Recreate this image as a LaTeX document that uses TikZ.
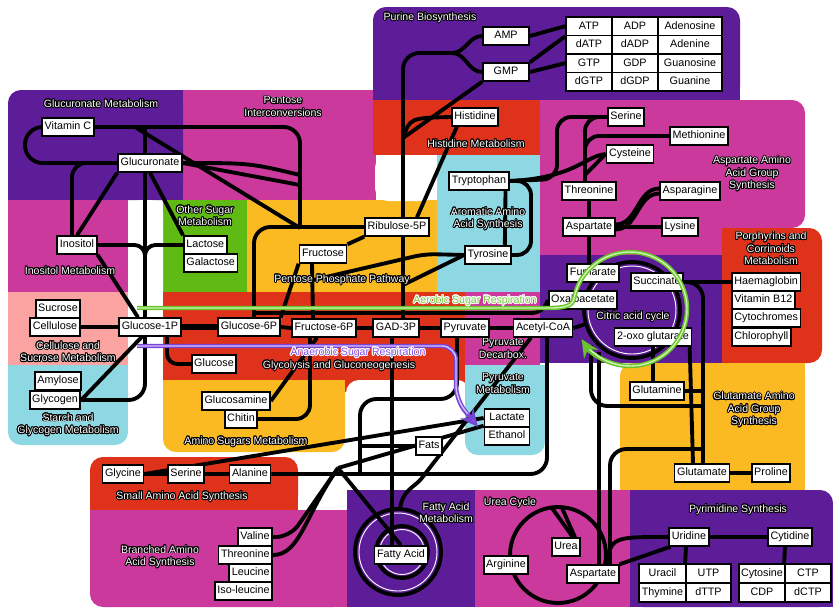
\documentclass[tikz,border=0pt]{standalone}
\usepackage{fontspec}
\setmainfont{Liberation Sans}
\usepackage[copies]{contour}
\contourlength{0.75pt}
\usetikzlibrary{calc,arrows.meta}
\definecolor{cPur}{RGB}{93,29,153}
\definecolor{cMag}{RGB}{204,57,156}
\definecolor{cRed}{RGB}{223,50,27}
\definecolor{cOra}{RGB}{251,186,33}
\definecolor{cCya}{RGB}{141,216,226}
\definecolor{cGre}{RGB}{95,187,20}
\definecolor{cPin}{RGB}{250,163,160}
\definecolor{aeroG}{RGB}{105,195,45}
\definecolor{aeroL}{RGB}{205,245,175}
\definecolor{aeroT}{RGB}{120,205,60}
\definecolor{anaP}{RGB}{118,68,215}
\definecolor{anaL}{RGB}{215,195,255}
\definecolor{anaT}{RGB}{130,80,230}
\pgfdeclarelayer{bg}\pgfdeclarelayer{edges}\pgfdeclarelayer{fg}
\pgfsetlayers{bg,edges,main,fg}
\newcommand\rr[5]{\fill[#1,rounded corners=11pt] (#2,#3) rectangle (#4,#5);}
\newcommand\sr[5]{\fill[#1] (#2,#3) rectangle (#4,#5);}
\newcommand\cl[1]{\contour{black}{#1}}
\begin{document}
\begin{tikzpicture}[x=0.03cm,y=-0.03cm,
 box/.style={draw,line width=1.5pt,fill=white,inner xsep=2.2pt,inner ysep=0pt,minimum height=0.53cm,text height=6.7pt,text depth=1.9pt,font=\fontsize{9.2}{10}\selectfont},
 cell/.style={box,inner xsep=0pt,minimum width=#1,minimum height=0.555cm},
 ln/.style={line width=3.3pt,rounded corners=9pt},
 ring/.style={line width=3.3pt},
 halo/.style={white,line width=0.8pt},
 rlab/.style={text=white,align=center,inner sep=0pt,font=\fontsize{9}{10.6}\selectfont},
]
\useasboundingbox (0,0) rectangle (833,607);
\begin{pgfonlayer}{bg}
\fill[white] (0,0) rectangle (833,607);
\sr{cMag}{183}{90}{376}{200}
\rr{cPur}{373}{7}{740}{100} \sr{cPur}{373}{40}{740}{100}
\rr{cPur}{8}{90}{183}{200} \sr{cPur}{40}{90}{183}{200} \sr{cPur}{8}{125}{183}{200}
\sr{cRed}{373}{100}{540}{155}
\rr{cMag}{540}{100}{805}{228} \sr{cMag}{540}{100}{770}{228} \sr{cMag}{540}{130}{805}{200} \sr{cMag}{540}{200}{722}{255}
\sr{cMag}{8}{200}{128}{292}
\sr{cGre}{163}{200}{247}{292}
\sr{cOra}{247}{200}{437}{292}
\sr{cCya}{437}{155}{540}{292}
\fill[white,rounded corners=11pt] (375,155) rectangle (437,201);
\sr{cPur}{540}{255}{722}{363}
\rr{cRed}{722}{228}{822}{363} \sr{cRed}{722}{228}{780}{363}
\sr{cPin}{8}{292}{128}{365}
\rr{cCya}{8}{365}{128}{445} \sr{cCya}{8}{365}{128}{410}
\fill[white,rounded corners=11pt] (128,200) rectangle (163,470);
\sr{cRed}{163}{292}{465}{392}
\sr{cMag}{465}{292}{540}{365}
\rr{cOra}{163}{380}{345}{452} \sr{cOra}{163}{380}{345}{420}
\fill[white,rounded corners=11pt] (346,380) rectangle (470,505);
\rr{cCya}{465}{365}{545}{455} \sr{cCya}{465}{365}{545}{420}
\rr{cOra}{620}{363}{805}{490} \sr{cOra}{650}{363}{805}{490} \sr{cOra}{620}{400}{805}{490}
\rr{cRed}{90}{457}{298}{510} \sr{cRed}{90}{485}{298}{510}
\rr{cMag}{90}{510}{347}{607} \sr{cMag}{90}{510}{347}{570} \sr{cMag}{130}{510}{347}{607}
\sr{cPur}{347}{490}{475}{607}
\sr{cMag}{475}{490}{630}{607}
\rr{cPur}{630}{490}{833}{607} \sr{cPur}{630}{490}{800}{607} \sr{cPur}{630}{525}{833}{607}
\end{pgfonlayer}

% region labels
\node[rlab] (lPur) at (430,18) {\cl{Purine Biosynthesis}};
\node[rlab] (lGlcr) at (101,104) {\cl{Glucuronate Metabolism}};
\node[rlab] (lPent) at (283,107) {\cl{Pentose}\\\cl{Interconversions}};
\node[rlab] (lHis) at (476,144) {\cl{Histidine Metabolism}};
\node[rlab] (lArom) at (488,219) {\cl{Aromatic Amino}\\\cl{Acid Synthesis}};
\node[rlab] (lAsp) at (752,174) {\cl{Aspartate Amino}\\\cl{Acid Group}\\\cl{Synthesis}};
\node[rlab] (lOth) at (205,216) {\cl{Other Sugar}\\\cl{Metabolism}};
\node[rlab] (lIno) at (70,271) {\cl{Inositol Metabolism}};
\node[rlab] (lPPP) at (342,280) {\cl{Pentose Phosphate Pathway}};
\node[rlab] (lPorph) at (771,249) {\cl{Porphyrins and}\\\cl{Corrinoids}\\\cl{Metabolism}};
\node[rlab] (lCit) at (633,317) {\cl{Citric acid cycle}};
\node[rlab] (lCell) at (68,352) {\cl{Cellulose and}\\\cl{Sucrose Metabolism}};
\node[rlab] (lGly) at (339,366) {\cl{Glycolysis and Gluconeogenesis}};
\node[rlab] (lPdc) at (503,349) {\cl{Pyruvate}\\\cl{Decarbox.}};
\node[rlab] (lPm) at (503,384) {\cl{Pyruvate}\\\cl{Metabolism}};
\node[rlab] (lStar) at (68,425) {\cl{Starch and}\\\cl{Glycogen Metabolism}};
\node[rlab] (lAms) at (246,442) {\cl{Amino Sugars Metabolism}};
\node[rlab] (lGlu) at (754,410) {\cl{Glutamate Amino}\\\cl{Acid Group}\\\cl{Synthesis}};
\node[rlab] (lSmall) at (182,497) {\cl{Small Amino Acid Synthesis}};
\node[rlab] (lFat) at (446,513) {\cl{Fatty Acid}\\\cl{Metabolism}};
\node[rlab] (lUrea) at (510,503) {\cl{Urea Cycle}};
\node[rlab] (lPyr) at (738,510) {\cl{Pyrimidine Synthesis}};
\node[rlab] (lBr) at (160,557) {\cl{Branched Amino}\\\cl{Acid Synthesis}};

% nodes
\node[box] (vitc) at (68,127) {Vitamin C};
\node[box] (glcr) at (150,163) {Glucuronate};
\node[box] (inos) at (77,245) {Inositol};
\node[box,anchor=west] (lact) at (183,245) {Lactose};
\node[box,anchor=west] (gala) at (183,263) {Galactose};
\node[box] (sucr) at (58,309) {Sucrose};
\node[box] (cell) at (55,327) {Cellulose};
\node[box] (g1p) at (150,327) {Glucose-1P};
\node[box] (amyl) at (58,381) {Amylose};
\node[box] (glyg) at (55,400) {Glycogen};
\node[box] (gluc) at (214,364) {Glucose};
\node[box] (g6p) at (249,327) {Glucose-6P};
\node[box] (f6p) at (324,328) {Fructose-6P};
\node[box] (gad) at (396,328) {GAD-3P};
\node[box] (pyr) at (465,328) {Pyruvate};
\node[box] (acoa) at (543,328) {Acetyl-CoA};
\node[box] (fruc) at (323,254) {Fructose};
\node[box] (rib) at (397,227) {Ribulose-5P};
\node[box] (tyr) at (488,255) {Tyrosine};
\node[box] (trp) at (479,181) {Tryptophan};
\node[box] (his) at (475,117) {Histidine};
\node[box,minimum width=1.38cm] (amp) at (506,36) {AMP};
\node[box,minimum width=1.38cm] (gmp) at (506,72) {GMP};
\node[cell=1.38cm] (atp) at (589,26.2) {ATP};
\node[cell=1.38cm] (adp) at (635,26.2) {ADP};
\node[cell=1.92cm] (ados) at (690,26.2) {Adenosine};
\node[cell=1.38cm] (datp) at (589,44.7) {dATP};
\node[cell=1.38cm] (dadp) at (635,44.7) {dADP};
\node[cell=1.92cm] (adin) at (690,44.7) {Adenine};
\node[cell=1.38cm] (gtp) at (589,63.2) {GTP};
\node[cell=1.38cm] (gdp) at (635,63.2) {GDP};
\node[cell=1.92cm] (guos) at (690,63.2) {Guanosine};
\node[cell=1.38cm] (dgtp) at (589,81.7) {dGTP};
\node[cell=1.38cm] (dgdp) at (635,81.7) {dGDP};
\node[cell=1.92cm] (guan) at (690,81.7) {Guanine};
\node[box] (ser1) at (626,117) {Serine};
\node[box] (met) at (699,136) {Methionine};
\node[box] (cys) at (630,154) {Cysteine};
\node[box] (thr1) at (589,191) {Threonine};
\node[box] (asn) at (690,191) {Asparagine};
\node[box] (asp1) at (589,227) {Aspartate};
\node[box] (lys) at (680,227) {Lysine};
\node[box] (fum) at (593,273) {Fumarate};
\node[box] (oaa) at (583,300) {Oxaloacetate};
\node[box] (suc) at (657,282) {Succinate};
\node[box] (oxo) at (653,337) {2-oxo glutarate};
\node[box,anchor=west] (haem) at (731,282) {Haemaglobin};
\node[box,anchor=west] (b12) at (731,300) {Vitamin B12};
\node[box,anchor=west] (cytc) at (731,318) {Cytochromes};
\node[box,anchor=west] (chlo) at (731,337) {Chlorophyll};
\node[box] (gln) at (657,391) {Glutamine};
\node[box] (glu) at (702,473) {Glutamate};
\node[box] (pro) at (771,473) {Proline};
\node[box] (uri) at (689,537) {Uridine};
\node[box] (cyt) at (790,537) {Cytidine};
\node[cell=1.41cm,minimum height=0.57cm] (urac) at (662.5,573.5) {Uracil};
\node[cell=1.35cm,minimum height=0.57cm] (utp) at (708.5,573.5) {UTP};
\node[cell=1.41cm,minimum height=0.57cm] (thym) at (662.5,592.5) {Thymine};
\node[cell=1.35cm,minimum height=0.57cm] (dttp) at (708.5,592.5) {dTTP};
\node[cell=1.38cm,minimum height=0.57cm] (cyts) at (762,573.5) {Cytosine};
\node[cell=1.38cm,minimum height=0.57cm] (ctp) at (808,573.5) {CTP};
\node[cell=1.38cm,minimum height=0.57cm] (cdp) at (762,592.5) {CDP};
\node[cell=1.38cm,minimum height=0.57cm] (dctp) at (808,592.5) {dCTP};
\node[box] (urea) at (566,547) {Urea};
\node[box] (arg) at (506,565) {Arginine};
\node[box] (asp2) at (593,574) {Aspartate};
\node[box] (fa) at (401,555) {Fatty Acid};
\node[box] (fats) at (429,446) {Fats};
\node[box,minimum width=1.35cm] (lac) at (507,418) {Lactate};
\node[box,minimum width=1.35cm] (eth) at (507,436) {Ethanol};
\node[box] (glcn) at (236,401) {Glucosamine};
\node[box] (chit) at (241,419) {Chitin};
\node[box] (gly) at (123,474) {Glycine};
\node[box] (ser2) at (186,474) {Serine};
\node[box] (ala) at (250,474) {Alanine};
\node[box,anchor=east] (val) at (273,537) {Valine};
\node[box,anchor=east] (thr2) at (273,555) {Threonine};
\node[box,anchor=east] (leu) at (273,573) {Leucine};
\node[box,anchor=east] (ile) at (273,591) {Iso-leucine};

% junction coordinates
\coordinate (j1) at (300,228);
\coordinate (v1) at (135,127);
\coordinate (t1) at (145,127);
\coordinate (jf) at (313,280);
\coordinate (jg) at (403,285);
\coordinate (jp) at (452,53);
\coordinate (jh) at (403,138);
\coordinate (jg6) at (254,313);
\coordinate (jv) at (338,468);
\coordinate (ja) at (360,474);

\begin{pgfonlayer}{edges}
\draw[ln,rounded corners=15pt] (vitc.west) -- (25,127) -- (25,163) -- (glcr.west);
\draw[ln,rounded corners=14pt] (vitc.east) -- (300,127) -- (j1);
\draw[ln] (v1) -- (j1);
\draw[ln,rounded corners=14pt] (t1) -- (145,400) -- (glyg.east);
\draw[ln] (inos.east) -- (145,245) -- (145,262);
\draw[ln] (lact.west) -- (145,245) -- (145,262);
\draw[ln] (glcr.south) -- (lact.north west);
\draw[ln] (glcr.south west) -- (inos.north);
\draw[ln,rounded corners=12pt] (glcr.west) -- (72,163) -- ($(inos.north)+(-5,0)$);
\draw[ln] (glcr.east) .. controls (250,163) .. (300,175);
\draw[ln] (glcr.east) -- (300,185);
\draw[ln] (inos.south east) -- ($(g1p.north)+(-12,0)$);
\draw[ln] (cell.east) -- (g1p.west);
\draw[ln,line width=5pt] (g1p.east) -- (g6p.west);
\draw[ln] (glyg.east) -- ($(g1p.south)+(-8,0)$);
\draw[ln] ($(g1p.south)+(17,0)$) |- (gluc.west);
\draw[ln,rounded corners=14pt] ($(g6p.north)+(5,0)$) |- (rib.west);
\draw[ln] (g6p.east) -- (f6p.west);
\draw[ln] (f6p.east) -- (gad.west);
\draw[ln] (gad.east) -- (pyr.west);
\draw[ln] (pyr.east) -- (acoa.west);
\draw[ln] (g6p.north east) -- (fruc.south west);
\draw[ln] ($(f6p.north)+(-11,0)$) -- ($(fruc.south)+(-11,0)$);
\draw[ln] (fruc.north east) -- (rib.south west);
\draw[ln] ($(gad.north)+(7,0)$) -- ($(rib.south)+(6,0)$);
\draw[ln] (tyr.west) -- (425,254) -- (jf);
\draw[ln] (tyr.west) -- (jg);
\draw[ln,rounded corners=14pt] ($(rib.north)+(6,0)$) -- (403,53) -- (jp);
\draw[ln] (jp) to[out=0,in=180] (amp.west);
\draw[ln] (jp) to[out=0,in=180] (gmp.west);
\draw[ln] (jh) .. controls (410,118) .. (his.west);
\draw[ln] (jh) -- (gmp.south west);
\draw[ln] ($(his.south west)+(6,0)$) -- ($(rib.north)+(20,0)$);
\draw[ln] (amp.east) -- (atp.west);
\draw[ln] (gmp.east) -- (gtp.west);
\draw[ln] (gmp.north east) -- (atp.south west);
\draw[ln] ($(trp.south east)+(-4,0)$) -- ($(tyr.north east)+(-7,0)$);
\draw[ln,rounded corners=12pt] (trp.east) -- (531,181) -- (531,255) -- (tyr.east);
\draw[ln,rounded corners=12pt] (trp.east) -- (557,179) -- (557,117) -- (ser1.west);
\draw[ln] (trp.east) .. controls (575,178) and (585,156) .. (cys.west);
\draw[ln,rounded corners=12pt] (ser1.west) -| ($(thr1.north)+(-4,0)$);
\draw[ln,rounded corners=12pt] (met.west) -| (585,168);
\draw[ln] (cys.west) -- (585,175);
\draw[ln] (thr1.south) -- (asp1.north);
\draw[ln] (asp1.south) -- ($(fum.north)+(-4,0)$);
\draw[ln] (asp1.east) -- (lys.west);
\draw[ln] ($(asp1.east)+(0,-2.5)$) to[out=0,in=180] ($(asn.west)+(0,-2.5)$);
\draw[ln] ($(asp1.east)+(0,2.5)$) to[out=0,in=180] ($(asn.west)+(0,2.5)$);
% citric ring
\draw[ring] (632,310) circle (48);
\draw[halo] (632,310) circle (44);
\draw[ln] (acoa.east) -- (586,324);
\draw[ln] (jg6) -- (543,313) -- (oaa.west);
\draw[ln,rounded corners=14pt] (suc.east) -| ($(glu.north)+(1,0)$);
\draw[ln] (suc.east) -- (haem.west);
\draw[ln] ($(oxo.east)+(-3,0)$) -- ($(glu.north)+(-9,0)$);
\draw[ln] (oxo.south) -- ($(gln.north)+(-4,0)$);
\draw[ln] (gln.east) -- (703,391);
\draw[ln,rounded corners=14pt] (591,345) |- (703,406);
\draw[ln] (599,352) -- ($(asp2.north)+(6,0)$);
\draw[ln,rounded corners=14pt] ($(asp2.north)+(17,0)$) |- (703,449);
\draw[ln] ($(asp2.north)+(13,0)$) .. controls (612,537) .. (uri.west);
\draw[ln] (asp2.north east) -- ($(uri.south west)+(2,0)$);
\draw[ln] (uri.east) -- (cyt.west);
\draw[ln] ($(uri.south)+(-3,0)$) -- (utp.north west);
\draw[ln] ($(cyt.south)+(-5,0)$) -- (ctp.north west);
\draw[ln] (glu.east) -- (pro.west);
% urea cycle
\draw[ring] (558,555) circle (48);
\draw[ln] (552,508) -- ($(urea.north)+(7,0)$);
\draw[ln] (562,508) -- ($(urea.north)+(9,0)$);
% fatty acid spiral
\draw[ring] (398,552) circle (43);
\draw[halo] (398,552) circle (39);
\draw[ring] (402,552) circle (26);
\draw[halo] (402,552) circle (22.5);
\draw[ln] ($(gad.south)+(-4,0)$) -- ($(fa.north)+(-9,0)$);
\draw[ln] ($(acoa.south)+(-12,0)$) -- (428,470) .. controls (415,487) and (402,490) .. (400,509);
\draw[ln,rounded corners=14pt] ($(acoa.south)+(4,0)$) |- (ala.east);
\draw[ln,rounded corners=14pt] ($(pyr.south)+(-8,0)$) -- (457,399) -- (360,399) -- (ja);
\draw[ln] (gly.east) -- (lac.west);
\draw[ln] (gly.east) -- (ser2.west);
\draw[ln] (ser2.east) -- (ala.west);
\draw[ln] (fats.west) -- (360,446);
\draw[ln] (jv) -- ($(lac.south west)+(0,-2)$);
\draw[ln,rounded corners=12pt] (val.east) -- (290,537) -- (jv);
\draw[ln] (thr2.east) .. controls (300,555) and (305,515) .. (jv);
\draw[ln] (jv) -- (fa.north);
\draw[ln] (glcn.east) -- ($(f6p.south)+(-7,0)$);
\draw[ln,rounded corners=12pt] (chit.east) -| ($(f6p.south)+(-14,0)$);
\end{pgfonlayer}

\begin{pgfonlayer}{fg}
% aerobic
\draw[aeroG,line width=3.8pt,-{Stealth[length=15pt,width=14pt,fill=aeroL]}] (137,308) -- (550,308) .. controls (566,308) and (573,305) .. (573.9,299.1) arc[start angle=190,end angle=508,radius=57];
\draw[aeroL,line width=1.2pt] (137,308) -- (550,308) .. controls (566,308) and (573,305) .. (573.9,299.1) arc[start angle=190,end angle=495,radius=57];
% anaerobic
\draw[anaP,line width=3.8pt,rounded corners=12pt,-{Stealth[length=15pt,width=14pt,fill=anaL]}] (137,346) -- (456,346) -- (456,400) -- (478,427);
\draw[anaL,line width=1.2pt,rounded corners=12pt] (137,346) -- (456,346) -- (456,400) -- (468,414);
\node[inner sep=0pt,text=aeroT,font=\fontsize{9}{10}\selectfont] (laer) at (475,301) {\contour{white}{Aerobic Sugar Respiration}};
\node[inner sep=0pt,text=anaT,font=\fontsize{9}{10}\selectfont] (lana) at (358,353) {\contour{white}{Anaerobic Sugar Respiration}};
\end{pgfonlayer}
\end{tikzpicture}
\end{document}
